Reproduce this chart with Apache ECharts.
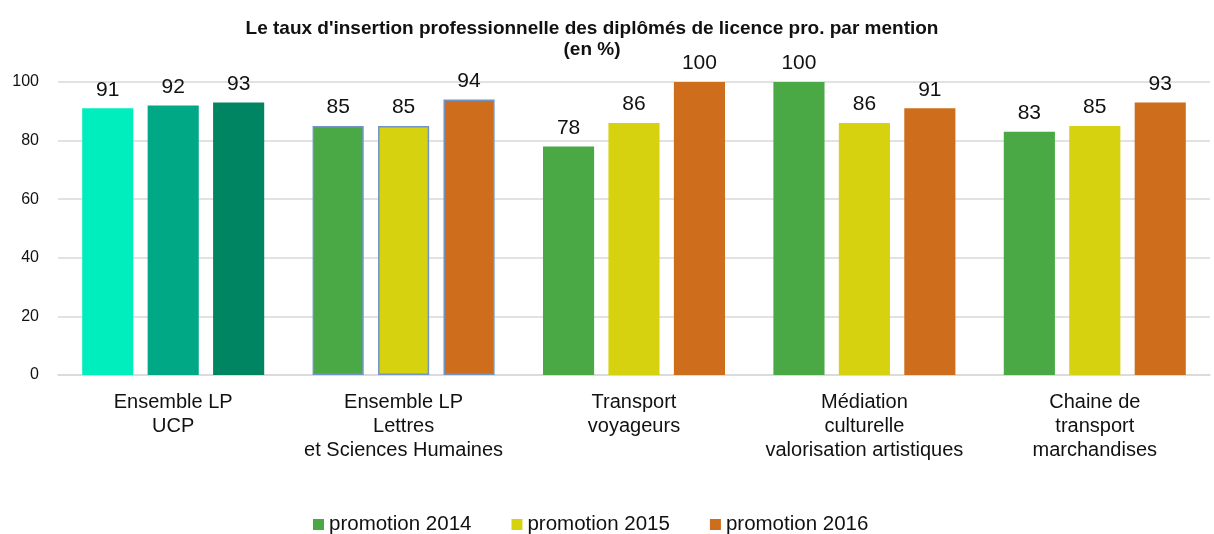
<!DOCTYPE html>
<html>
<head>
<meta charset="utf-8">
<script src="https://cdn.jsdelivr.net/npm/echarts@6/dist/echarts.min.js"></script>
<style>
  html, body { margin: 0; padding: 0; background: #fff; }
  #chart { width: 1214px; height: 534px; }
</style>
</head>
<body>
<div id="chart"></div>
<script>
var categories = [
    'Ensemble LP\nUCP',
    'Ensemble LP\nLettres\net Sciences Humaines',
    'Transport\nvoyageurs',
    'Médiation\nculturelle\nvalorisation artistiques',
    'Chaine de\ntransport\nmarchandises'
];
var seriesNames = ['promotion 2014', 'promotion 2015', 'promotion 2016'];
var promo2014 = [91, 85, 78, 100, 83];
var promo2015 = [92, 85, 86, 86, 85];
var promo2016 = [93, 94, 100, 91, 93];
var yTicks = [0, 20, 40, 60, 80, 100];

var seriesColors = ['#4aa845', '#d6d20f', '#ce6e1d'];
// le premier groupe (ensemble UCP) a ses propres couleurs
var ucpColors = ['#00eebe', '#00a886', '#008563'];
var borderedGroup = 1;
var font = '"Liberation Sans", Arial, sans-serif';

var chart = echarts.init(document.getElementById('chart'));

function buildData(values, s) {
    return values.map(function (v, i) {
        var item = { value: v };
        if (i === 0) {
            item.itemStyle = { color: ucpColors[s] };
        } else if (i === borderedGroup) {
            item.itemStyle = { borderColor: '#7094c8', borderWidth: 1.5 };
        }
        return item;
    });
}

var allValues = [promo2014, promo2015, promo2016];
var series = allValues.map(function (vals, s) {
    return {
        name: seriesNames[s],
        type: 'bar',
        barGap: '28%',
        barCategoryGap: '21%',
        data: buildData(vals, s),
        itemStyle: { color: seriesColors[s] },
        label: {
            show: true,
            position: 'top',
            distance: 8,
            color: '#111',
            fontSize: 21,
            fontFamily: font
        }
    };
});

var option = {
    animation: false,
    backgroundColor: '#fff',
    title: {
        text: "Le taux d'insertion professionnelle des diplômés de licence pro. par mention\n(en %)",
        left: 587,
        textAlign: 'center',
        top: 13,
        textStyle: {
            fontSize: 19,
            fontWeight: 'bold',
            color: '#111',
            lineHeight: 21,
            fontFamily: font
        }
    },
    legend: {
        data: seriesNames,
        top: 509,
        left: 308,
        itemWidth: 11,
        itemHeight: 11,
        itemGap: 40,
        icon: 'rect',
        textStyle: {
            fontSize: 20.5,
            color: '#111',
            fontFamily: font
        }
    },
    grid: {
        left: 58,
        right: 4,
        top: 82,
        bottom: 159,
        containLabel: false
    },
    xAxis: {
        type: 'category',
        data: categories,
        axisLine: { show: true, lineStyle: { color: '#d9d9d9', width: 1.5 } },
        axisTick: { show: false },
        axisLabel: {
            color: '#111',
            fontSize: 20,
            lineHeight: 24,
            margin: 15,
            interval: 0,
            fontFamily: font
        }
    },
    yAxis: {
        type: 'value',
        min: yTicks[0],
        max: yTicks[yTicks.length - 1],
        interval: yTicks[1] - yTicks[0],
        axisLine: { show: false },
        axisTick: { show: false },
        splitLine: { lineStyle: { color: '#d9d9d9', width: 1.5 } },
        axisLabel: {
            color: '#111',
            fontSize: 16,
            margin: 19,
            fontFamily: font
        }
    },
    series: series
};

chart.setOption(option);
</script>
</body>
</html>
